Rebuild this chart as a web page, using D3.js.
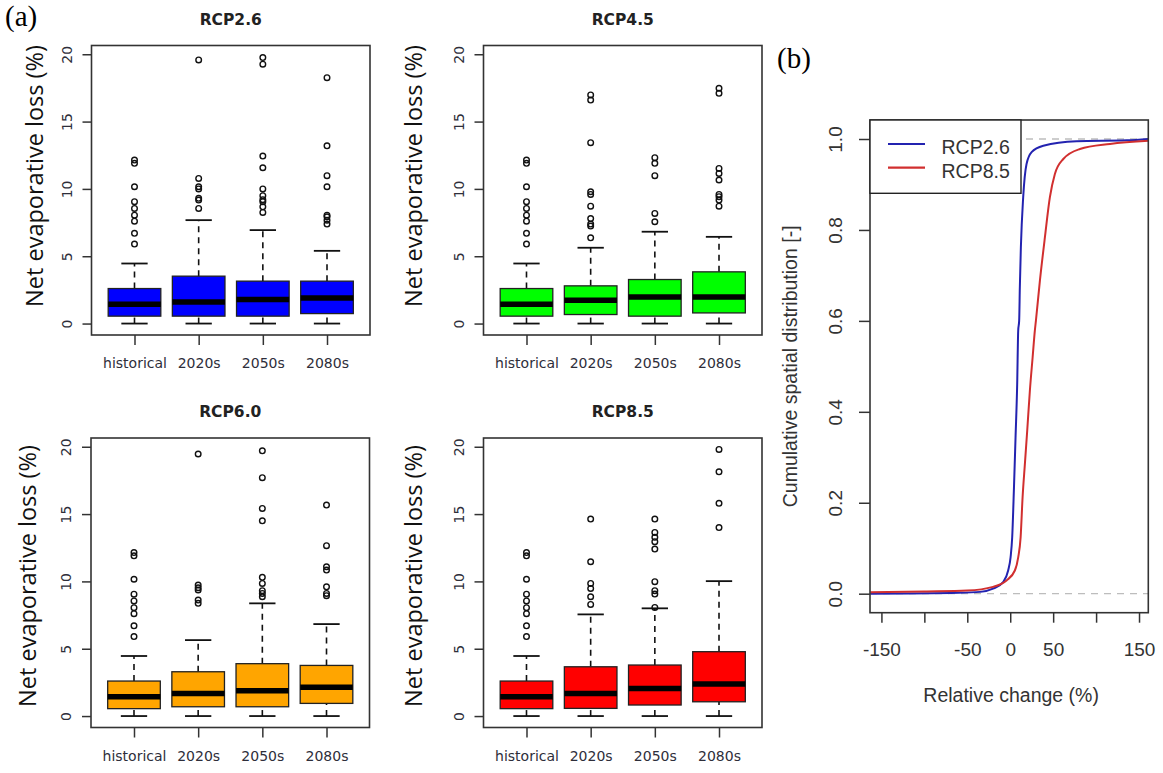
<!DOCTYPE html>
<html>
<head>
<meta charset="utf-8">
<script src="https://cdn.jsdelivr.net/npm/d3@7"></script>
<style>
  body { margin: 0; background: #fff; }
  svg { display: block; }
</style>
</head>
<body>
<svg id="chart" width="1163" height="773"></svg>
<script>
// ---- data ----
var periods = ["historical", "2020s", "2050s", "2080s"];
var yTicks = [0, 5, 10, 15, 20];

// [lower whisker, q1, median, q3, upper whisker]
var historicalBox = [0, 0.55, 1.43, 2.6, 4.46];
var historicalOut = [5.9, 6.7, 7.6, 8.05, 8.55, 9.05, 10.16, 11.9, 12.14];

var rcp26Box = [historicalBox, [0, 0.55, 1.61, 3.52, 7.68], [0, 0.55, 1.78, 3.15, 6.94], [0, 0.74, 1.9, 3.15, 5.4]];
var rcp26Out = [historicalOut, [8.55, 9.17, 9.3, 10.0, 10.16, 10.78, 19.58],
  [8.25, 8.67, 9.05, 9.2, 9.5, 10.0, 11.57, 12.44, 19.26, 19.75],
  [7.39, 7.68, 7.93, 8.05, 10.16, 10.98, 13.2, 18.26]];

var rcp45Box = [historicalBox, [0, 0.67, 1.73, 2.8, 5.63], [0, 0.55, 1.98, 3.27, 6.82], [0, 0.79, 1.98, 3.84, 6.44]];
var rcp45Out = [historicalOut, [6.37, 7.24, 7.39, 7.8, 8.72, 9.59, 9.79, 13.43, 16.6, 16.98],
  [7.56, 8.18, 10.98, 11.9, 12.32],
  [8.72, 9.17, 9.42, 9.59, 10.66, 11.15, 11.52, 17.1, 17.47]];

var rcp60Box = [historicalBox, [0, 0.69, 1.68, 3.29, 5.64], [0, 0.69, 1.88, 3.89, 8.37], [0, 0.94, 2.13, 3.76, 6.83]];
var rcp60Out = [historicalOut, [8.37, 8.61, 9.36, 9.53, 9.73, 19.46],
  [8.86, 9.11, 9.31, 9.85, 10.3, 14.5, 15.42, 17.7, 19.7],
  [8.94, 9.11, 9.6, 10.84, 11.09, 12.65, 15.67]];

var rcp85Box = [historicalBox, [0, 0.57, 1.68, 3.66, 7.55], [0, 0.82, 2.05, 3.79, 8.0], [0, 1.06, 2.38, 4.78, 10.02]];
var rcp85Out = [historicalOut, [8.29, 8.86, 9.48, 9.85, 11.46, 14.63],
  [8.07, 9.06, 9.31, 9.98, 12.4, 12.95, 13.27, 13.64, 14.63],
  [14.0, 15.8, 18.14, 19.8]];

// panel (b): cumulative distribution of relative change
var cdfTicks = [-150, -100, -50, 0, 50, 100, 150];
var cdfTickLabels = [-150, -50, 0, 50, 150];
var cdfYTicks = [0, 0.2, 0.4, 0.6, 0.8, 1.0];
var rcp26X = [-163, -60, -35, -20, -8, -2.4, 0.4, 2.3, 4.3, 6.2, 8.1, 9.3, 10.4, 11.2, 12.4, 15.1, 19, 24.9, 38.5, 77.3, 135.6, 161];
var rcp26F = [0, 0.002, 0.004, 0.011, 0.026, 0.051, 0.08, 0.124, 0.23, 0.344, 0.46, 0.579, 0.6, 0.674, 0.762, 0.872, 0.945, 0.971, 0.985, 0.995, 0.997, 1.0];
var rcp85X = [-163, -100, -50, -20, -4.3, 5.4, 9.3, 12.1, 14.4, 17.1, 19.8, 22.9, 26.1, 28.7, 29.9, 34.6, 40.4, 46.2, 52, 61.8, 81.2, 116.2, 161];
var rcp85F = [0.003, 0.005, 0.007, 0.015, 0.029, 0.051, 0.08, 0.124, 0.212, 0.286, 0.359, 0.447, 0.52, 0.579, 0.6, 0.689, 0.784, 0.872, 0.923, 0.956, 0.978, 0.989, 0.996];

// ---- layout ----
var svg = d3.select("#chart");
var W = 278.5, H = 289.5;
var panels = [
  {title: "RCP2.6", box: rcp26Box, out: rcp26Out, fill: "#0000ff", left: 91.5, top: 45.5, labX: 43, labY: 176},
  {title: "RCP4.5", box: rcp45Box, out: rcp45Out, fill: "#00ff00", left: 483.5, top: 45.5, labX: 422, labY: 176},
  {title: "RCP6.0", box: rcp60Box, out: rcp60Out, fill: "#ffa500", left: 91, top: 438, labX: 36, labY: 576},
  {title: "RCP8.5", box: rcp85Box, out: rcp85Out, fill: "#ff0000", left: 483.5, top: 438, labX: 422, labY: 576}
];

panels.forEach(drawBoxPanel);

function drawBoxPanel(p) {
  var g = svg.append("g");
  var x = d3.scalePoint().domain(periods).range([p.left, p.left + W]).padding(0.67);
  var y = d3.scaleLinear().domain([-0.85, 20.65]).range([p.top + H, p.top]);
  var bw = x.step() * 0.82;

  var rows = periods.map(function(per, i) {
    return {period: per, s: p.box[i], out: p.out[i]};
  });

  var grp = g.selectAll("g.box").data(rows).enter().append("g").attr("class", "box");

  // whiskers
  grp.append("line")
    .attr("x1", function(d) { return x(d.period); })
    .attr("x2", function(d) { return x(d.period); })
    .attr("y1", function(d) { return y(d.s[3]); })
    .attr("y2", function(d) { return y(d.s[4]); })
    .attr("stroke", "#111").attr("stroke-width", 1.6).attr("stroke-dasharray", "6,5");
  grp.append("line")
    .attr("x1", function(d) { return x(d.period); })
    .attr("x2", function(d) { return x(d.period); })
    .attr("y1", function(d) { return y(d.s[0]); })
    .attr("y2", function(d) { return y(d.s[1]); })
    .attr("stroke", "#111").attr("stroke-width", 1.6).attr("stroke-dasharray", "6,5");
  // caps
  [0, 4].forEach(function(k) {
    grp.append("line")
      .attr("x1", function(d) { return x(d.period) - bw / 4; })
      .attr("x2", function(d) { return x(d.period) + bw / 4; })
      .attr("y1", function(d) { return y(d.s[k]); })
      .attr("y2", function(d) { return y(d.s[k]); })
      .attr("stroke", "#111").attr("stroke-width", 1.8);
  });
  // boxes
  grp.append("rect")
    .attr("x", function(d) { return x(d.period) - bw / 2; })
    .attr("width", bw)
    .attr("y", function(d) { return y(d.s[3]); })
    .attr("height", function(d) { return y(d.s[1]) - y(d.s[3]); })
    .attr("fill", p.fill).attr("stroke", "#222").attr("stroke-width", 1.3);
  // median
  grp.append("line")
    .attr("x1", function(d) { return x(d.period) - bw / 2; })
    .attr("x2", function(d) { return x(d.period) + bw / 2; })
    .attr("y1", function(d) { return y(d.s[2]); })
    .attr("y2", function(d) { return y(d.s[2]); })
    .attr("stroke", "#000").attr("stroke-width", 5.5);
  // outliers
  grp.selectAll("circle").data(function(d) {
      return d.out.map(function(v) { return {period: d.period, v: v}; });
    }).enter().append("circle")
    .attr("cx", function(d) { return x(d.period); })
    .attr("cy", function(d) { return y(d.v); })
    .attr("r", 2.8)
    .attr("fill", "none").attr("stroke", "#111").attr("stroke-width", 1.4);

  // frame
  g.append("rect").attr("x", p.left).attr("y", p.top).attr("width", W).attr("height", H)
    .attr("fill", "none").attr("stroke", "#333").attr("stroke-width", 1.6);

  // y axis
  var ya = g.append("g").attr("transform", "translate(" + p.left + ",0)")
    .call(d3.axisLeft(y).tickValues(yTicks).tickSize(9).tickSizeOuter(0));
  ya.select(".domain").remove();
  ya.selectAll("line").attr("stroke", "#333").attr("stroke-width", 1.5);
  ya.selectAll("text")
    .attr("transform", "rotate(-90)")
    .attr("x", 0).attr("y", -20).attr("dy", null)
    .attr("text-anchor", "middle")
    .attr("font-family", "DejaVu Sans").attr("font-size", 14).attr("fill", "#2e2e3a");

  // x axis
  var xa = g.append("g").attr("transform", "translate(0," + (p.top + H) + ")")
    .call(d3.axisBottom(x).tickSize(10).tickSizeOuter(0));
  xa.select(".domain").remove();
  xa.selectAll("line").attr("stroke", "#333").attr("stroke-width", 1.5);
  xa.selectAll("text")
    .attr("y", 33).attr("dy", null)
    .attr("font-family", "DejaVu Sans").attr("font-size", 14).attr("fill", "#2e2e3a");

  // title
  g.append("text").attr("x", p.left + W / 2).attr("y", p.top - 21)
    .attr("text-anchor", "middle")
    .attr("font-family", "DejaVu Sans").attr("font-weight", "bold").attr("font-size", 15.5)
    .attr("fill", "#222").text(p.title);

  // y title
  g.append("text")
    .attr("transform", "translate(" + p.labX + "," + p.labY + ") rotate(-90)")
    .attr("text-anchor", "middle")
    .attr("font-family", "Open Sans").attr("font-size", 23.5)
    .attr("fill", "#111").text("Net evaporative loss (%)");
}

svg.append("text").attr("x", 5).attr("y", 26)
  .attr("font-family", "Liberation Serif").attr("font-size", 29).attr("fill", "#000").text("(a)");
svg.append("text").attr("x", 777).attr("y", 68)
  .attr("font-family", "Liberation Serif").attr("font-size", 29).attr("fill", "#000").text("(b)");

// ---- panel (b) ----
var bL = 870, bT = 120, bR = 1148.3, bB = 612.7;
var xb = d3.scaleLinear().domain([-163.3, 160.8]).range([bL, bR]);
var yb = d3.scaleLinear().domain([-0.0418, 1.0418]).range([bB, bT]);
var gb = svg.append("g");

[0, 1].forEach(function(v) {
  gb.append("line").attr("x1", bL).attr("x2", bR).attr("y1", yb(v)).attr("y2", yb(v))
    .attr("stroke", "#bdbdbd").attr("stroke-width", 1.3).attr("stroke-dasharray", "7,6");
});

var cdfLine = d3.line()
  .x(function(d) { return xb(d[0]); })
  .y(function(d) { return yb(d[1]); })
  .curve(d3.curveMonotoneX);

var series = [
  {name: "RCP2.6", xs: rcp26X, fs: rcp26F, color: "#2323b0"},
  {name: "RCP8.5", xs: rcp85X, fs: rcp85F, color: "#d12f2f"}
];
series.forEach(function(s) {
  gb.append("path")
    .datum(d3.zip(s.xs, s.fs))
    .attr("d", cdfLine)
    .attr("fill", "none").attr("stroke", s.color).attr("stroke-width", 2);
});

gb.append("rect").attr("x", bL).attr("y", bT).attr("width", bR - bL).attr("height", bB - bT)
  .attr("fill", "none").attr("stroke", "#333").attr("stroke-width", 1.6);

var xba = gb.append("g").attr("transform", "translate(0," + bB + ")")
  .call(d3.axisBottom(xb).tickValues(cdfTicks).tickSize(10).tickSizeOuter(0)
    .tickFormat(function(d) { return cdfTickLabels.indexOf(d) >= 0 ? d : ""; }));
xba.select(".domain").remove();
xba.selectAll("line").attr("stroke", "#333").attr("stroke-width", 1.5);
xba.selectAll("text").attr("y", 43).attr("dy", null)
  .attr("font-family", "Liberation Sans").attr("font-size", 19).attr("fill", "#333");

var yba = gb.append("g").attr("transform", "translate(" + bL + ",0)")
  .call(d3.axisLeft(yb).tickValues(cdfYTicks).tickSize(11).tickSizeOuter(0).tickFormat(d3.format(".1f")));
yba.select(".domain").remove();
yba.selectAll("line").attr("stroke", "#333").attr("stroke-width", 1.5);
yba.selectAll("text")
  .attr("transform", "rotate(-90)")
  .attr("x", 0).attr("y", -28).attr("dy", null)
  .attr("text-anchor", "middle")
  .attr("font-family", "Liberation Sans").attr("font-size", 19).attr("fill", "#333");

gb.append("text").attr("x", (bL + bR) / 2 + 2).attr("y", 702)
  .attr("text-anchor", "middle")
  .attr("font-family", "Liberation Sans").attr("font-size", 19.5).attr("fill", "#333")
  .text("Relative change (%)");
gb.append("text")
  .attr("transform", "translate(797," + ((bT + bB) / 2) + ") rotate(-90)")
  .attr("text-anchor", "middle")
  .attr("font-family", "Liberation Sans").attr("font-size", 19.5).attr("fill", "#333")
  .text("Cumulative spatial distribution [-]");

// legend
var lg = gb.append("g");
lg.append("rect").attr("x", bL).attr("y", bT).attr("width", 151).attr("height", 73.3)
  .attr("fill", "#fff").attr("stroke", "#222").attr("stroke-width", 1.4);
series.forEach(function(s, i) {
  var ly = 144 + i * 23.7;
  lg.append("line").attr("x1", 888).attr("x2", 925).attr("y1", ly).attr("y2", ly)
    .attr("stroke", s.color).attr("stroke-width", 2.2);
  lg.append("text").attr("x", 941.5).attr("y", ly + 10)
    .attr("font-family", "Liberation Sans").attr("font-size", 19.5).attr("fill", "#333")
    .text(s.name);
});
</script>
</body>
</html>
